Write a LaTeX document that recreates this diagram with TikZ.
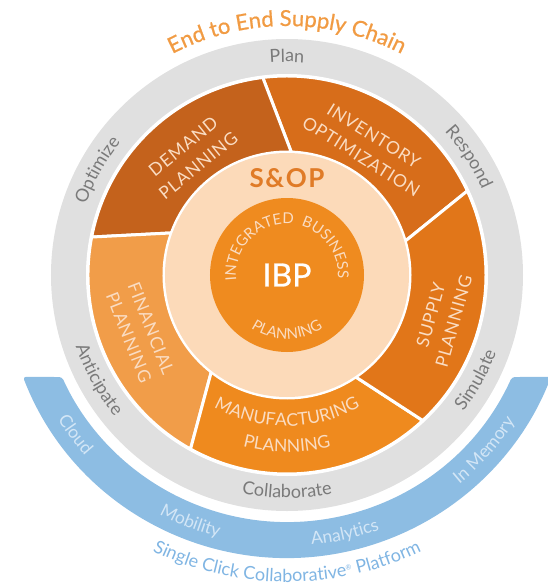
\documentclass[tikz,border=0pt]{standalone}
\usepackage{fontspec}
\setmainfont{Lato}
\newfontfamily\capsfont[LetterSpace=6]{Lato}
\newfontfamily\widefont[LetterSpace=5]{Lato}
\newfontfamily\medfont[FakeBold=0.8]{Lato}
\usetikzlibrary{decorations.text}
\definecolor{ringgray}{HTML}{E0E0E0}
\definecolor{ringtxt}{HTML}{7A7A7A}
\definecolor{demcol}{HTML}{C4621C}
\definecolor{invcol}{HTML}{D76D1A}
\definecolor{supcol}{HTML}{E17619}
\definecolor{mancol}{HTML}{EF8A1E}
\definecolor{fincol}{HTML}{F19D49}
\definecolor{peach}{HTML}{FCDAB9}
\definecolor{ibpcol}{HTML}{EF8B1F}
\definecolor{sopcol}{HTML}{E07B27}
\definecolor{titlecol}{HTML}{F19B43}
\definecolor{bandblue}{HTML}{8DBDE3}
\definecolor{bandtxt}{HTML}{D3E6F6}
\definecolor{platcol}{HTML}{80B5E3}
\definecolor{labtxt}{HTML}{FADCC2}
\newcommand\ringfont{\fontsize{18}{21}\selectfont}
\newcommand\bandfont{\fontsize{17.5}{21}\selectfont}
\newcommand\secfont{\widefont\fontsize{17.5}{24}\selectfont}
\newcommand\ibpfont{\capsfont\fontsize{15}{17}\selectfont}
\begin{document}
\begin{tikzpicture}[x=1pt,y=1pt,
  seclabel/.style={text=labtxt, font=\secfont, align=center},
  arctext/.style 2 args={decorate, decoration={text along path, text align=center, text color=#1, text={#2}}}]
\useasboundingbox (-287,-309) rectangle (260,275);
\fill[bandblue, rounded corners=3pt] (201.1:283) arc[start angle=201.1, end angle=338.9, radius=283] -- (335.6:247) arc[start angle=335.6, end angle=204.4, radius=247] -- cycle;
\fill[ringgray] (0,0) circle (236);
\fill[white] (0,0) circle (201);
\foreach \a/\b/\c in {16/88/invcol, 88/160/demcol, 160/232/fincol, 232/304/mancol, 304/376/supcol}
  \filldraw[fill=\c, draw=white, line width=3pt] (\a:123) -- ({\a+9}:199) arc[start angle=\a+9, end angle=\b+9, radius=199] -- (\b:123) arc[start angle=\b, end angle=\a, radius=123] -- cycle;
\fill[peach] (0,0) circle (122);
\fill[ibpcol] (0,0) circle (77);
\node (sop) at (0,97) [text=sopcol, font=\capsfont\bfseries\fontsize{26}{30}\selectfont] {S\&OP};
\node (ibp) at (0,0) [text=white, font=\medfont\fontsize{32}{36}\selectfont] {IBP};
\node (dem) at (129:153) [seclabel, rotate=39] {DEMAND\\PLANNING};
\node (inv) at (58:152) [seclabel, rotate=-32] {INVENTORY\\OPTIMIZATION};
\node (sup) at (-15.5:161) [seclabel, rotate=74.5] {SUPPLY\\PLANNING};
\node (fin) at (201.5:158) [seclabel, rotate=-68.5] {FINANCIAL\\PLANNING};
\path[arctext={labtxt}{|\secfont|MANUFACTURING}] (220:151) arc[start angle=220, end angle=320, radius=151];
\path[arctext={labtxt}{|\secfont|PLANNING}] (232:177) arc[start angle=232, end angle=308, radius=177];
\path[arctext={labtxt}{|\ibpfont|INTEGRATED}] (200:51) arc[start angle=200, end angle=69, radius=51];
\path[arctext={labtxt}{|\ibpfont|BUSINESS}] (88:51) arc[start angle=88, end angle=-18, radius=51];
\path[arctext={labtxt}{|\ibpfont|PLANNING}] (215:64) arc[start angle=215, end angle=325, radius=64];
\path[arctext={ringtxt}{|\ringfont|Plan}] (130:213) arc[start angle=130, end angle=50, radius=213];
\path[arctext={ringtxt}{|\ringfont|Respond}] (73:213) arc[start angle=73, end angle=-7, radius=213];
\path[arctext={ringtxt}{|\ringfont|Optimize}] (191:213) arc[start angle=191, end angle=111, radius=213];
\path[arctext={ringtxt}{|\ringfont|Collaborate}] (230:223) arc[start angle=230, end angle=310, radius=223];
\path[arctext={ringtxt}{|\ringfont|Simulate}] (-69:223) arc[start angle=-69, end angle=11, radius=223];
\path[arctext={ringtxt}{|\ringfont|Anticipate}] (169:223) arc[start angle=169, end angle=249, radius=223];
\path[arctext={bandtxt}{|\bandfont|Cloud}] (187:271) arc[start angle=187, end angle=247, radius=271];
\path[arctext={bandtxt}{|\bandfont|Mobility}] (218.6:271) arc[start angle=218.6, end angle=278.6, radius=271];
\path[arctext={bandtxt}{|\bandfont|Analytics}] (252.6:271) arc[start angle=252.6, end angle=312.6, radius=271];
\path[arctext={bandtxt}{|\bandfont|In Memory}] (288.4:271) arc[start angle=288.4, end angle=348.4, radius=271];
\path[arctext={titlecol}{|\medfont\fontsize{22}{25}\selectfont|End to End Supply Chain}] (140:249) arc[start angle=140, end angle=40, radius=249];
\path[arctext={platcol}{|\fontsize{18}{21}\selectfont|Single Click Collaborative{\raisebox{6pt}{\fontsize{7}{7}\selectfont ®}} Platform}] (225:307) arc[start angle=225, end angle=315, radius=307];
\end{tikzpicture}
\end{document}
